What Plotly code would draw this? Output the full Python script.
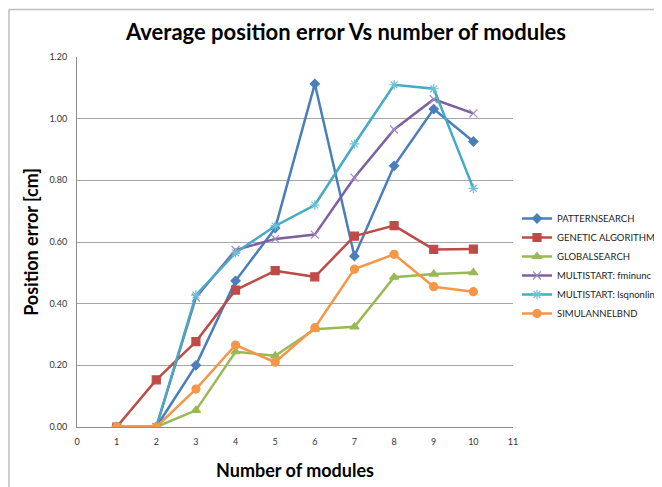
import plotly.graph_objects as go

modules = [1, 2, 3, 4, 5, 6, 7, 8, 9, 10]
patternsearch = [0.0, 0.0, 0.200, 0.474, 0.645, 1.113, 0.554, 0.847, 1.031, 0.926]
genetic = [0.0, 0.153, 0.277, 0.444, 0.507, 0.487, 0.619, 0.653, 0.576, 0.577]
globalsearch = [0.0, 0.0, 0.054, 0.244, 0.231, 0.317, 0.325, 0.486, 0.496, 0.501]
ms_fminunc = [0.0, 0.0, 0.420, 0.574, 0.610, 0.624, 0.809, 0.965, 1.063, 1.017]
ms_lsqnonlin = [0.0, 0.0, 0.428, 0.565, 0.652, 0.720, 0.918, 1.110, 1.097, 0.774]
simulannelbnd = [0.0, 0.0, 0.123, 0.266, 0.210, 0.322, 0.512, 0.560, 0.455, 0.439]

series_names = ["PATTERNSEARCH", "GENETIC ALGORITHM", "GLOBALSEARCH",
                "MULTISTART: fminunc", "MULTISTART: lsqnonlin", "SIMULANNELBND"]
series_values = [patternsearch, genetic, globalsearch, ms_fminunc, ms_lsqnonlin, simulannelbnd]
line_colors = ["#4A7EBB", "#BE4B48", "#98B954", "#7D60A0", "#46AAC5", "#F79646"]
marker_colors = ["#4A7EBB", "#BE4B48", "#98B954", "#A08CC0", "#6CC0D8", "#F79646"]
marker_symbols = ["diamond", "square", "triangle-up", "x-thin-open", "asterisk-open", "circle"]
marker_sizes = [7, 8, 8, 8, 8, 8]

x_ticks = list(range(0, 12))
y_ticks = [0.0, 0.2, 0.4, 0.6, 0.8, 1.0, 1.2]

fig = go.Figure()
for name, vals, lc, mc, sym, sz in zip(series_names, series_values, line_colors,
                                      marker_colors, marker_symbols, marker_sizes):
    fig.add_trace(go.Scatter(
        x=modules, y=vals, name=name, mode="lines+markers",
        line=dict(color=lc, width=2.5),
        marker=dict(symbol=sym, size=sz, color=mc,
                    line=dict(color=mc, width=1.2)),
    ))

W, H = 662, 487
# page has an 8px body margin, so figure coords = page coords - 8
L, R, T, B = 69, 157, 49, 68
pw, ph = W - L - R, H - T - B

fig.update_layout(
    width=W, height=H,
    margin=dict(l=L, r=R, t=T, b=B, pad=0, autoexpand=False),
    paper_bgcolor="white", plot_bgcolor="white",
    font=dict(family="Lato, 'Open Sans', sans-serif", color="#222"),
    title=dict(text="<b>Average position error Vs number of modules</b>",
               x=338 / W, xanchor="center", y=1 - 24 / H, yanchor="middle",
               font=dict(size=22, color="black", family="Lato, sans-serif")),
    xaxis=dict(range=[0, 11], tickvals=x_ticks, showgrid=False,
               showline=True, linecolor="#8C8C8C", linewidth=1,
               ticks="", ticklen=0, zeroline=False, automargin=False,
               ticklabelstandoff=6,
               tickfont=dict(size=9, color="#333"),
               title=dict(text="<b>Number of modules</b>",
                          font=dict(size=18, color="black"), standoff=18)),
    yaxis=dict(range=[0, 1.2], tickvals=y_ticks, tickformat=".2f",
               showgrid=True, gridcolor="#A6A6A6", gridwidth=1,
               showline=True, linecolor="#8C8C8C", linewidth=1,
               ticks="", zeroline=False, automargin=False,
               ticklabelstandoff=7,
               tickfont=dict(size=9, color="#333"),
               title=dict(text="<b>Position error [cm]</b>",
                          font=dict(size=18, color="black"), standoff=6)),
    legend=dict(x=(509 - L) / pw, xanchor="left", y=1 - (196 - T) / ph, yanchor="top",
                font=dict(size=9.5, color="#222"), tracegroupgap=0,
                itemwidth=30, bgcolor="rgba(0,0,0,0)"),
    showlegend=True,
)

# outer chart border (top and left edges visible in reference)
bx = (1.0 - L) / pw
by = 1 + (T - 1.5) / ph
fig.add_shape(type="line", xref="paper", yref="paper",
              x0=bx, x1=(W - L) / pw, y0=by, y1=by,
              line=dict(color="#BDBDBD", width=1.5), layer="above")
fig.add_shape(type="line", xref="paper", yref="paper",
              x0=bx, x1=bx, y0=by, y1=-(H - T - ph) / ph,
              line=dict(color="#BDBDBD", width=1.5), layer="above")

fig.write_html("out.html")
